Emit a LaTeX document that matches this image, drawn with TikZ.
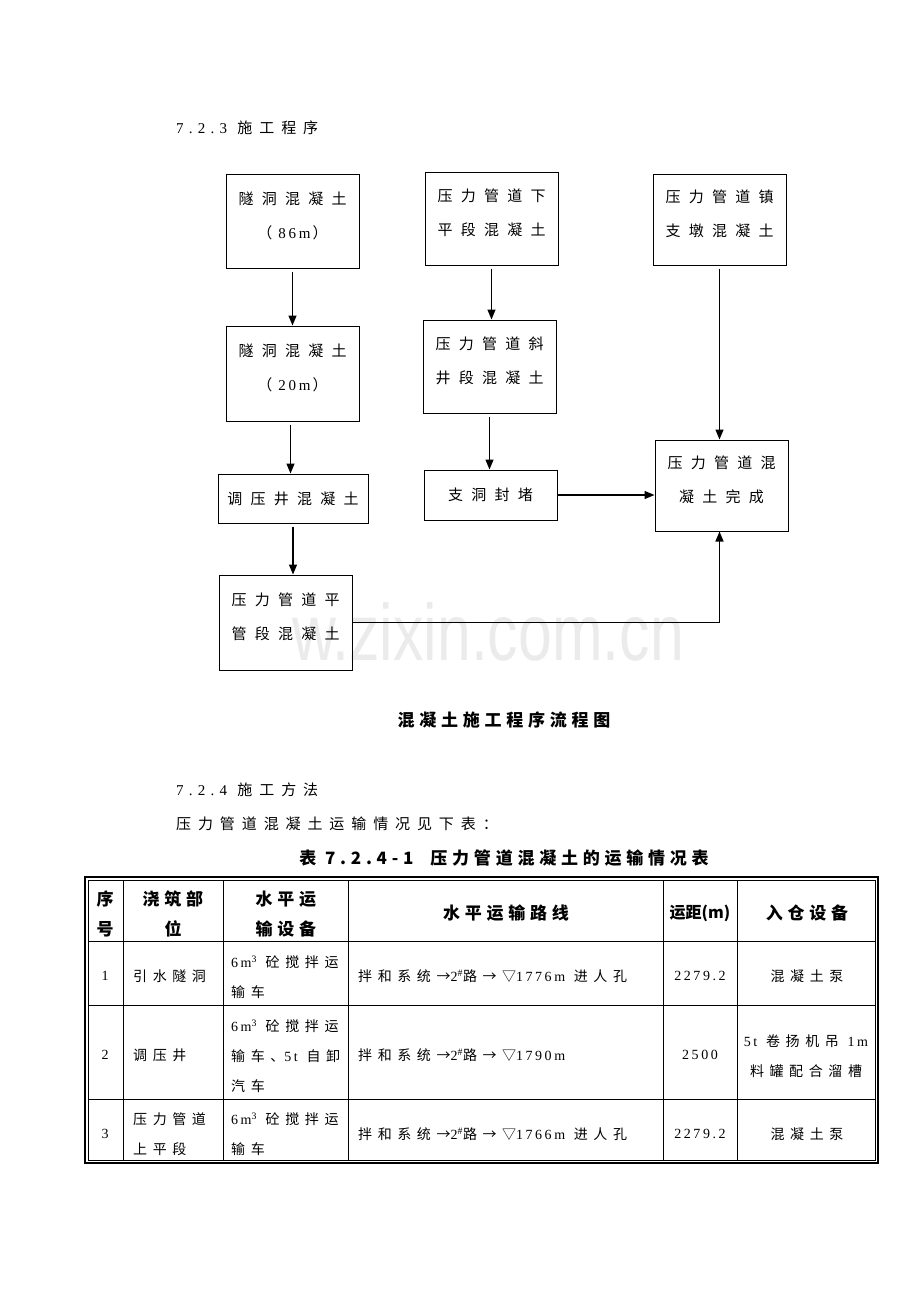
\documentclass[tikz,border=0pt]{standalone}
\usepackage{fontspec}
\setmainfont{Noto Sans CJK SC}
\newfontfamily\boxfont[LetterSpace=55]{Noto Sans CJK SC}
\newfontfamily\cellfont[LetterSpace=40]{Noto Sans CJK SC}
\newfontfamily\parafont[LetterSpace=46]{Noto Sans CJK SC}
\newfontfamily\capfont[LetterSpace=28]{Noto Sans CJK SC}
\newfontfamily\digfont[LetterSpace=18]{Liberation Serif}
\newfontfamily\headdigfont[LetterSpace=35]{Liberation Serif}
\newfontfamily\markfont{Liberation Sans}
\newcommand\dg[1]{{\digfont #1}}
\usetikzlibrary{arrows.meta}

\tikzset{
  flowbox/.style={draw, line width=1pt, inner sep=0pt, align=center,
    minimum width=133pt, font=\boxfont\fontsize{15}{34}\selectfont},
  twoline/.style={text depth=12pt},
  flowarrow/.style={line width=1.3pt, -{Triangle[length=10pt,width=8pt]}, shorten <=3pt},
  cell/.style={inner sep=0pt, font=\cellfont\fontsize{14}{30}\selectfont},
  headcell/.style={inner sep=0pt, align=center, font=\capfont\bfseries\fontsize{17}{30}\selectfont},
}

\begin{document}
\begin{tikzpicture}[x=1pt,y=-1pt]
        \useasboundingbox (0,0) rectangle (920,1302);

        % watermark
        \node[xscale=0.76, transform shape, text=gray!16, font=\markfont\fontsize{80}{80}\selectfont, inner sep=0pt] (mark) at (488,632) {w.zixin.com.cn};

        \node[anchor=west, inner sep=0pt, font=\parafont\fontsize{15}{20}\selectfont] (head723) at (176,128) {{\headdigfont 7.2.3} 施工程序};

        % flow chart
        \node[flowbox, twoline, minimum height=94pt] (tun86) at (292.5,221) {隧洞混凝土\\（\hspace{6pt}\dg{86m}\hspace{2pt}）};
        \node[flowbox, twoline, minimum height=93pt] (lowflat) at (491.5,218.5) {压力管道下\\平段混凝土};
        \node[flowbox, twoline, minimum height=91pt] (anchorblk) at (719.5,219.5) {压力管道镇\\支墩混凝土};
        \node[flowbox, twoline, minimum height=95pt] (tun20) at (292.5,373.5) {隧洞混凝土\\（\hspace{6pt}\dg{20m}\hspace{2pt}）};
        \node[flowbox, twoline, minimum height=93pt] (incline) at (489.5,366.5) {压力管道斜\\井段混凝土};
        \node[flowbox, minimum width=150pt, minimum height=49pt] (surge) at (293,498.5) {调压井混凝土};
        \node[flowbox, minimum height=50pt] (plug) at (490.5,495) {支洞封堵};
        \node[flowbox, twoline, minimum height=91pt] (done) at (721.5,485.5) {压力管道混\\凝土完成};
        \node[flowbox, twoline, minimum height=95pt] (flatpipe) at (285.5,622.5) {压力管道平\\管段混凝土};

        \draw[flowarrow] (tun86.south) -- (tun20.north);
        \draw[flowarrow] ([xshift=-2pt]tun20.south) -- ([xshift=-2pt]tun20.south |- surge.north);
        \draw[flowarrow] (surge.south) -- (surge.south |- flatpipe.north);
        \draw[flowarrow] (lowflat.south) -- (lowflat.south |- incline.north);
        \draw[flowarrow] (incline.south) -- (incline.south |- plug.north);
        \draw[flowarrow] (anchorblk.south) -- (anchorblk.south |- done.north);
        \draw[flowarrow, shorten <=0pt] (plug.east) -- (plug.east -| done.west);
        \draw[flowarrow, shorten <=0pt] (flatpipe.east) -| ([xshift=-2pt]done.south);

        \node[font=\capfont\bfseries\fontsize{17}{20}\selectfont, inner sep=0pt] (chartcap) at (504,720) {混凝土施工程序流程图};

        \node[anchor=west, inner sep=0pt, font=\parafont\fontsize{15}{20}\selectfont] (head724) at (176,790) {{\headdigfont 7.2.4} 施工方法};
        \node[anchor=west, inner sep=0pt, font=\parafont\fontsize{15}{20}\selectfont] (intro) at (176,824) {压力管道混凝土运输情况见下表：};
        \node[font=\capfont\bfseries\fontsize{17}{20}\selectfont, inner sep=0pt] (tabcap) at (504,858) {表 7.2.4-1\quad 压力管道混凝土的运输情况表};

        % table frame
        \draw[line width=1.5pt] (85,877) rectangle (878,1163);
        \draw[line width=0.8pt] (88,880) rectangle (875,1160);
        \draw[line width=0.8pt] (123,880) -- (123,1160);
        \draw[line width=0.8pt] (223,880) -- (223,1160);
        \draw[line width=0.8pt] (348,880) -- (348,1160);
        \draw[line width=0.8pt] (663,880) -- (663,1160);
        \draw[line width=0.8pt] (737,880) -- (737,1160);
        \draw[line width=0.8pt] (88,941) -- (875,941);
        \draw[line width=0.8pt] (88,1005) -- (875,1005);
        \draw[line width=0.8pt] (88,1099) -- (875,1099);

        % header row
        \node[headcell] (hnum) at (105,914) {序\\号};
        \node[headcell] (hpart) at (173,914) {浇筑部\\位};
        \node[headcell] (hcar) at (286,914) {水平运\\输设备};
        \node[headcell] (hroute) at (506,913) {水平运输路线};
        \node[headcell, font=\bfseries\fontsize{16}{20}\selectfont] (hdist) at (700,913) {运距(m)};
        \node[headcell] (hin) at (807,913) {入仓设备};

        % row 1
        \node[cell] (n1) at (105,976) {\dg{1}};
        \node[cell, anchor=west] (p1) at (133,976) {引水隧洞};
        \node[cell, anchor=west, align=left] (c1) at (231,977) {\dg{6m\textsuperscript{3}} 砼搅拌运\\输车};
        \node[cell, anchor=west] (r1) at (358,976) {拌和系统→\dg{2\textsuperscript{\#}}路→▽\dg{1776m} 进人孔};
        \node[cell] (d1) at (700,976) {\dg{2279.2}};
        \node[cell] (i1) at (807,976) {混凝土泵};

        % row 2
        \node[cell] (n2) at (105,1055) {\dg{2}};
        \node[cell, anchor=west] (p2) at (133,1055) {调压井};
        \node[cell, anchor=west, align=left] (c2) at (231,1056) {\dg{6m\textsuperscript{3}} 砼搅拌运\\输车、\dg{5t} 自卸\\汽车};
        \node[cell, anchor=west] (r2) at (358,1055) {拌和系统→\dg{2\textsuperscript{\#}}路→▽\dg{1790m}};
        \node[cell] (d2) at (700,1055) {\dg{2500}};
        \node[cell, align=center] (i2) at (806,1056) {\dg{5t} 卷扬机吊 \dg{1m}\\料罐配合溜槽};

        % row 3
        \node[cell] (n3) at (105,1134) {\dg{3}};
        \node[cell, anchor=west, align=left] (p3) at (133,1134) {压力管道\\上平段};
        \node[cell, anchor=west, align=left] (c3) at (231,1134) {\dg{6m\textsuperscript{3}} 砼搅拌运\\输车};
        \node[cell, anchor=west] (r3) at (358,1134) {拌和系统→\dg{2\textsuperscript{\#}}路→▽\dg{1766m} 进人孔};
        \node[cell] (d3) at (700,1134) {\dg{2279.2}};
        \node[cell] (i3) at (807,1134) {混凝土泵};
\end{tikzpicture}
\end{document}
